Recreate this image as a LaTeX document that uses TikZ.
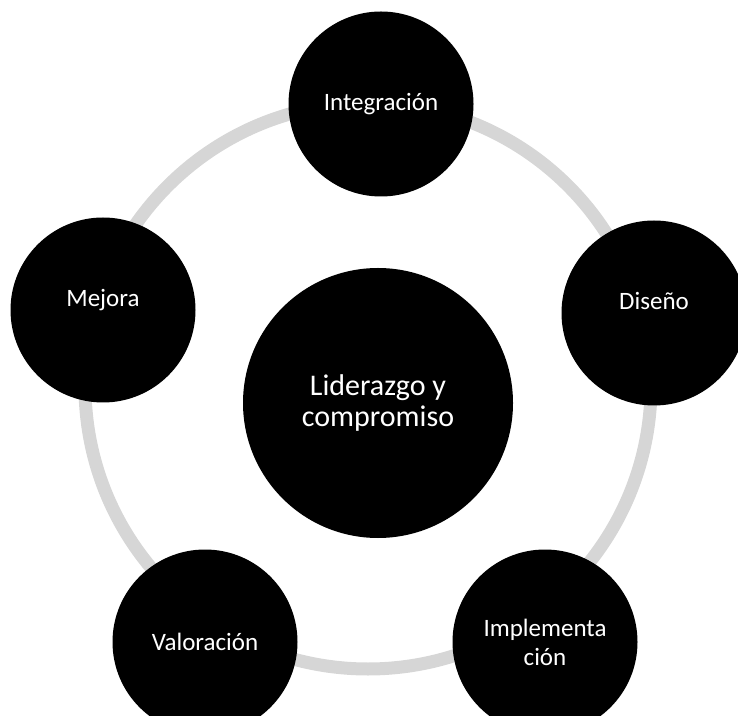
\documentclass[tikz,border=0pt]{standalone}
\usepackage{fontspec}
\setmainfont{Carlito}
\begin{document}
\begin{tikzpicture}[x=1pt,y=1pt,
        blob/.style={circle,fill=black,text=white,minimum size=185pt,
            inner sep=0pt,align=center,font=\fontsize{25}{29}\selectfont},
        hub/.style={circle,fill=black,text=white,minimum size=270pt,
            inner sep=0pt,align=center,font=\fontsize{30}{31}\selectfont},
        ring/.style={draw=black!16,line width=13pt}]
    \useasboundingbox (0,0) rectangle (738,715);

	\draw[ring] (368,329) circle[radius=283pt];

	\node[hub] (lider) at (378,312) {Liderazgo y\\compromiso};

	\node[blob] (integ) at (381,611) {Integración};
	\node[blob,text depth=24pt] (diseno) at (654,402) {Diseño};
	\node[blob] (implem) at (545,73) {Implementa\\ción};
	\node[blob] (valor) at (205,73) {Valoración};
	\node[blob,text depth=24pt] (mejora) at (103,405) {Mejora};
\end{tikzpicture}
\end{document}
